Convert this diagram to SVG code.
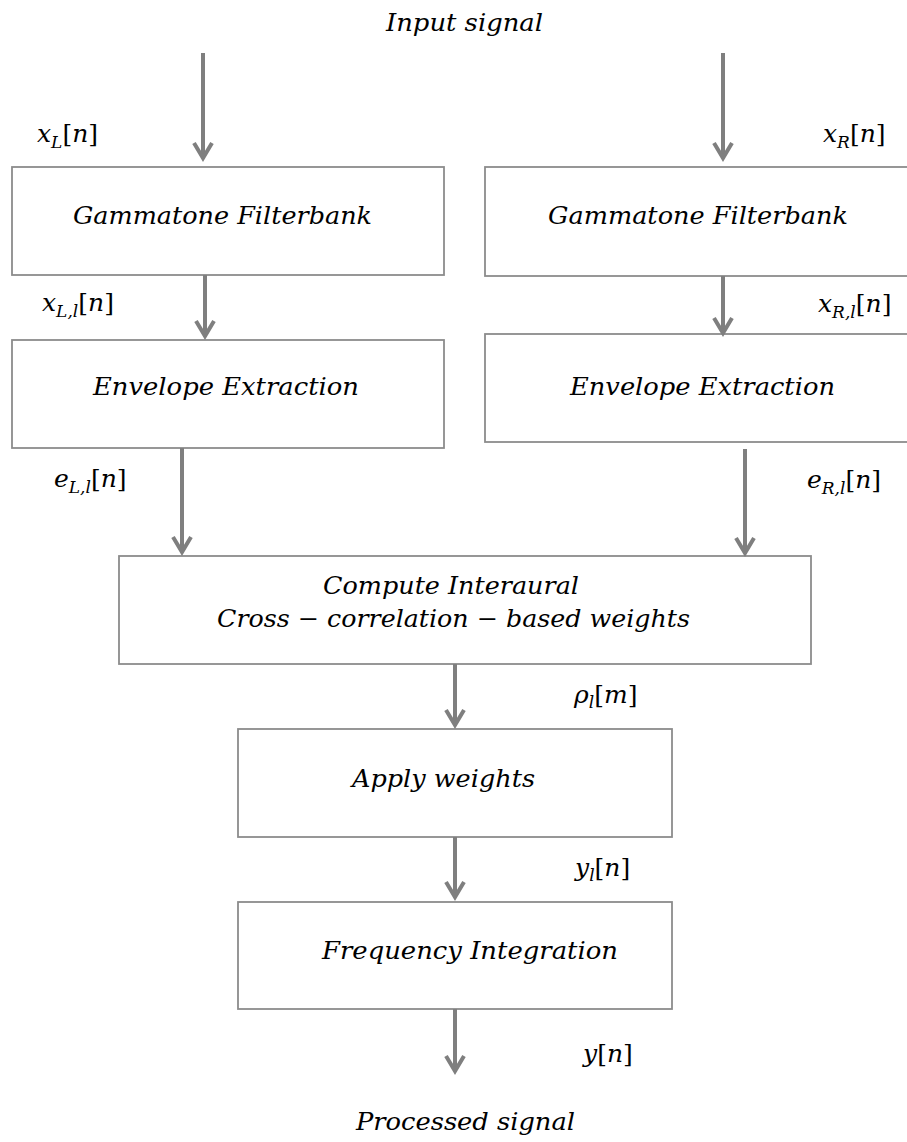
<svg xmlns="http://www.w3.org/2000/svg" width="907" height="1142" viewBox="0 0 907 1142">
  <style>
    .box { fill: #ffffff; stroke: #8c8c8c; stroke-width: 1.8; }
    .t { font-family: "DejaVu Serif", "Liberation Serif", serif; font-style: italic; font-size: 24.5px; fill: #000; }
    .m { font-family: "DejaVu Serif", "Liberation Serif", serif; font-style: italic; font-size: 25px; fill: #000; }
    .sub { font-size: 17px; }
    .up { font-style: normal; }
    .wire { stroke: #7f7f7f; stroke-width: 4; fill: none; }
  </style>
  <defs>
    <marker id="chev" markerUnits="userSpaceOnUse" markerWidth="24" markerHeight="24" refX="0" refY="0" viewBox="-18 -12 20 24" orient="auto" overflow="visible">
      <path d="M-15,-9 L0,0 L-15,9" fill="none" stroke="#7f7f7f" stroke-width="4" stroke-linejoin="miter"/>
    </marker>
  </defs>

  <rect width="907" height="1142" fill="#ffffff"/>

  <!-- source / sink captions -->
  <text class="t" x="386" y="31" textLength="157" lengthAdjust="spacingAndGlyphs">Input signal</text>
  <text class="t" x="356" y="1130" textLength="219" lengthAdjust="spacingAndGlyphs">Processed signal</text>

  <!-- processing blocks -->
  <g id="gt-left">
    <rect class="box" x="12" y="167" width="432" height="108"/>
    <text class="t" x="73" y="224" textLength="299" lengthAdjust="spacingAndGlyphs">Gammatone Filterbank</text>
  </g>
  <g id="gt-right">
    <rect class="box" x="485" y="167" width="430" height="109"/>
    <text class="t" x="548" y="224" textLength="300" lengthAdjust="spacingAndGlyphs">Gammatone Filterbank</text>
  </g>
  <g id="env-left">
    <rect class="box" x="12" y="340" width="432" height="108"/>
    <text class="t" x="93" y="395" textLength="266" lengthAdjust="spacingAndGlyphs">Envelope Extraction</text>
  </g>
  <g id="env-right">
    <rect class="box" x="485" y="334" width="430" height="108"/>
    <text class="t" x="570" y="395" textLength="265" lengthAdjust="spacingAndGlyphs">Envelope Extraction</text>
  </g>
  <g id="iacc">
    <rect class="box" x="119" y="556" width="692" height="108"/>
    <text class="t" x="323" y="594" textLength="256" lengthAdjust="spacingAndGlyphs">Compute Interaural</text>
    <text class="t" x="217" y="627" textLength="473" lengthAdjust="spacingAndGlyphs">Cross − correlation − based weights</text>
  </g>
  <g id="apply">
    <rect class="box" x="238" y="729" width="434" height="108"/>
    <text class="t" x="352" y="787" textLength="183" lengthAdjust="spacingAndGlyphs">Apply weights</text>
  </g>
  <g id="integrate">
    <rect class="box" x="238" y="902" width="434" height="107"/>
    <text class="t" x="322" y="959" textLength="296" lengthAdjust="spacingAndGlyphs">Frequency Integration</text>
  </g>

  <!-- signal flow -->
  <g id="connectors">
    <line class="wire" x1="203" y1="53" x2="203" y2="158" marker-end="url(#chev)"/>
    <line class="wire" x1="723" y1="53" x2="723" y2="158" marker-end="url(#chev)"/>
    <line class="wire" x1="205" y1="275" x2="205" y2="336" marker-end="url(#chev)"/>
    <line class="wire" x1="723" y1="276" x2="723" y2="333" marker-end="url(#chev)"/>
    <line class="wire" x1="182" y1="448" x2="182" y2="552" marker-end="url(#chev)"/>
    <line class="wire" x1="745" y1="449" x2="745" y2="553" marker-end="url(#chev)"/>
    <line class="wire" x1="455" y1="664" x2="455" y2="725" marker-end="url(#chev)"/>
    <line class="wire" x1="455" y1="837" x2="455" y2="897" marker-end="url(#chev)"/>
    <line class="wire" x1="455" y1="1009" x2="455" y2="1071" marker-end="url(#chev)"/>
  </g>

  <!-- signal labels -->
  <g id="labels">
    <text class="m" x="37" y="142">x<tspan class="sub" dy="6">L</tspan><tspan class="up" dy="-6">[</tspan>n<tspan class="up">]</tspan></text>
    <text class="m" x="823" y="142">x<tspan class="sub" dy="6">R</tspan><tspan class="up" dy="-6">[</tspan>n<tspan class="up">]</tspan></text>
    <text class="m" x="42" y="311">x<tspan class="sub" dy="6">L,l</tspan><tspan class="up" dy="-6">[</tspan>n<tspan class="up">]</tspan></text>
    <text class="m" x="818" y="312">x<tspan class="sub" dy="6">R,l</tspan><tspan class="up" dy="-6">[</tspan>n<tspan class="up">]</tspan></text>
    <text class="m" x="54" y="487">e<tspan class="sub" dy="6">L,l</tspan><tspan class="up" dy="-6">[</tspan>n<tspan class="up">]</tspan></text>
    <text class="m" x="807" y="488">e<tspan class="sub" dy="6">R,l</tspan><tspan class="up" dy="-6">[</tspan>n<tspan class="up">]</tspan></text>
    <text class="m" x="574" y="703">ρ<tspan class="sub" dy="5">l</tspan><tspan class="up" dy="-5">[</tspan>m<tspan class="up">]</tspan></text>
    <text class="m" x="575" y="876">y<tspan class="sub" dy="5">l</tspan><tspan class="up" dy="-5">[</tspan>n<tspan class="up">]</tspan></text>
    <text class="m" x="583" y="1062">y<tspan class="up">[</tspan>n<tspan class="up">]</tspan></text>
  </g>
</svg>
